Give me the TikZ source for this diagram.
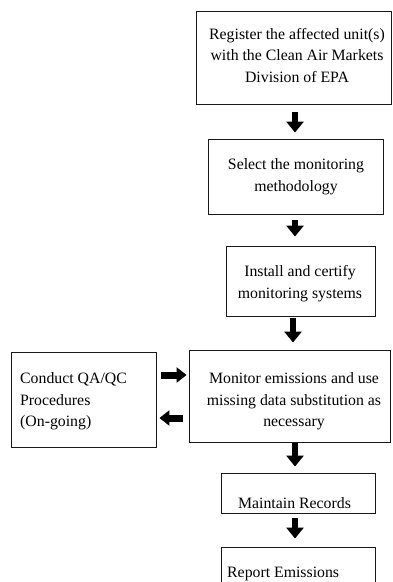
\documentclass[tikz,border=0pt]{standalone}
\usepackage{fontspec}
\setmainfont{Liberation Serif}
\usetikzlibrary{arrows.meta}
\begin{document}
\begin{tikzpicture}[x=1pt,y=-1pt,
  box/.style={draw=black!90,line width=0.9pt,rectangle,inner sep=0pt},
  txt/.style={inner sep=0pt,align=center,font=\fontsize{15.8}{21.5}\selectfont},
  ltxt/.style={inner sep=0pt,align=left,font=\fontsize{15.8}{21.5}\selectfont},
  blk/.style={line width=6pt,-{Triangle[width=17pt,length=11pt]}},
  sideblk/.style={line width=7pt,-{Triangle[width=15pt,length=10pt]}}]
\useasboundingbox (0,0) rectangle (392,582);
\clip (0,0) rectangle (392,582);
% boxes
\node[box,minimum width=195pt,minimum height=93pt] (b1) at (293.5,57.5) {};
\node[box,minimum width=175pt,minimum height=75pt] (b2) at (295.5,176.5) {};
\node[box,minimum width=149pt,minimum height=70pt] (b3) at (300.5,281) {};
\node[box,minimum width=201pt,minimum height=92pt] (b4) at (289.5,396) {};
\node[box,minimum width=145pt,minimum height=95pt] (qa) at (83.5,399.5) {};
\node[box,minimum width=154pt,minimum height=40pt] (b5) at (298,493) {};
\node[box,minimum width=154pt,minimum height=66pt] (b6) at (298,580) {};
% texts
\node[txt] (t1) at (297,55.5) {Register the affected unit(s)\\with the Clean Air Markets\\Division of EPA};
\node[txt] (t2) at (296,176.5) {Select the monitoring\\methodology};
\node[txt] (t3) at (300,283.5) {Install and certify\\monitoring systems};
\node[txt] (t4) at (294,401.5) {Monitor emissions and use\\missing data substitution as\\necessary};
\node[ltxt,anchor=west] (tqa) at (20,401.5) {Conduct QA/QC\\Procedures\\(On-going)};
\node[txt] (t5) at (294.5,503) {Maintain Records};
\node[ltxt,anchor=base west] (t6) at (227,577.5) {Report Emissions};
% arrow columns
\coordinate (ax) at (295,0);
\coordinate (ax3) at (293,0);
\coordinate (r1) at (0,375);
\coordinate (r2) at (0,418);
% vertical arrows
\draw[blk,shorten <=8pt,shorten >=6pt] (b1.south -| ax) -- (b2.north -| ax);
\draw[blk,shorten <=6pt,shorten >=9pt] (b2.south -| ax) -- (b3.north -| ax);
\draw[blk,shorten <=2pt,shorten >=7pt] (b3.south -| ax3) -- (b4.north -| ax3);
\draw[blk,shorten <=1pt,shorten >=6pt] (b4.south -| ax) -- (b5.north -| ax);
\draw[blk,shorten <=5pt,shorten >=8pt] (b5.south -| ax) -- (b6.north -| ax);
% side arrows
\draw[sideblk,shorten <=5pt,shorten >=2pt] (qa.east |- r1) -- (b4.west |- r1);
\draw[sideblk,shorten <=6pt,shorten >=3pt] (b4.west |- r2) -- (qa.east |- r2);
\end{tikzpicture}
\end{document}
